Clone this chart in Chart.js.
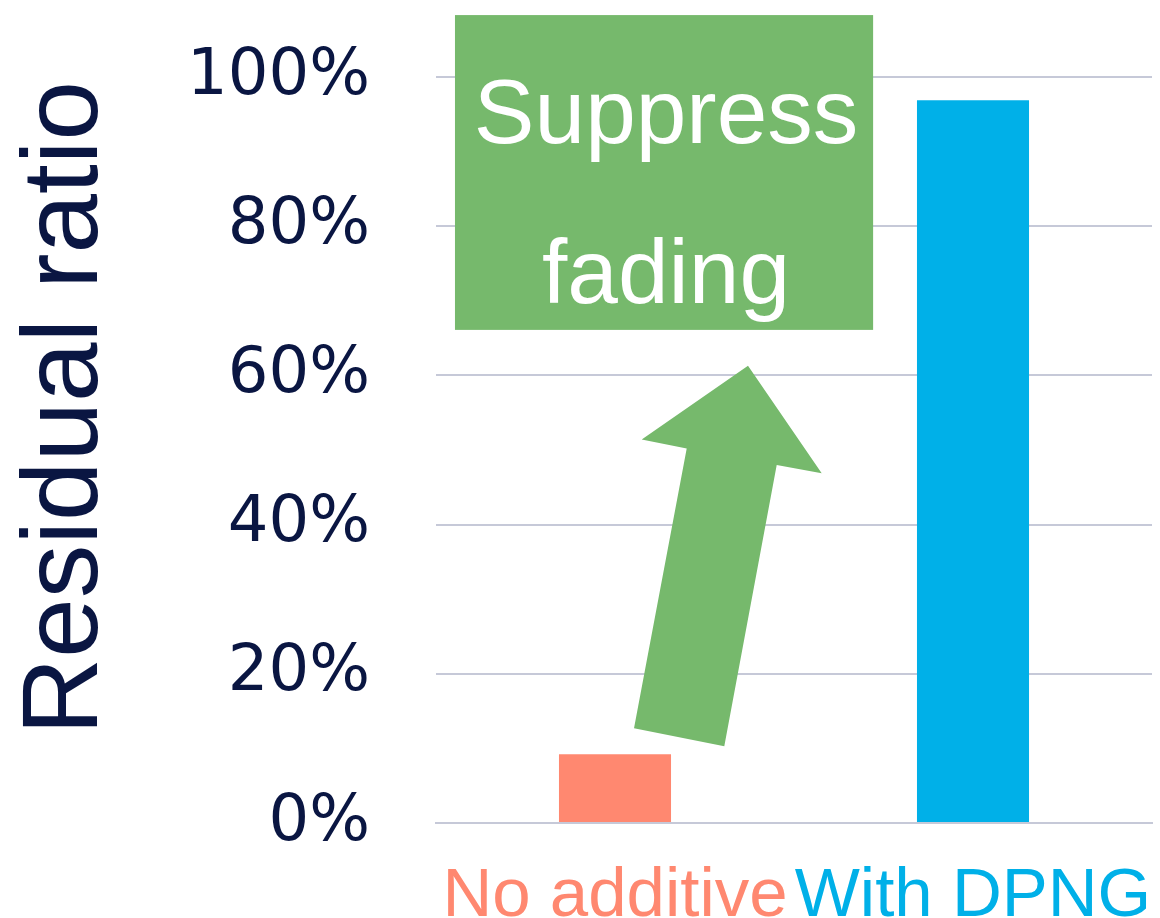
<!DOCTYPE html>
<html>
<head>
<meta charset="utf-8">
<script src="https://cdn.jsdelivr.net/npm/chart.js@4/dist/chart.umd.min.js"></script>
<style>
  html, body { margin: 0; padding: 0; background: #fff; }
  #wrap { width: 1160px; height: 918px; }
</style>
</head>
<body>
<div id="wrap"><canvas id="ratioChart"></canvas></div>
<script>
// Data
const categories = ['No additive', 'With DPNG'];
const residualRatio = [9.2, 96.9];
const barColors = ['#FF8870', '#00B0E8'];
const yTicks = [0, 20, 40, 60, 80, 100];

const navy = '#0A1642';
const green = '#76B96C';

// Callout box and arrow, in data units (x: category index, y: percent)
const calloutBox = { x0: -0.447, x1: 0.721, y0: 66.1, y1: 108.3 };
const calloutLines = ['Suppress', 'fading'];
const arrowPts = [
    [0.3715, 61.3], [0.5774, 46.9], [0.4517, 48.0], [0.3053, 10.3],
    [0.0531, 12.7], [0.2003, 50.2], [0.0746, 51.4]
];

const overlayPlugin = {
    id: 'overlay',
    afterDraw(chart) {
        const ctx = chart.ctx;
        const xs = chart.scales.x, ys = chart.scales.y;
        const unit = xs.getPixelForValue(1) - xs.getPixelForValue(0);
        const px = v => xs.getPixelForValue(0) + v * unit;
        const py = v => ys.getPixelForValue(v);

        ctx.save();
        // y axis title
        ctx.fillStyle = navy;
        ctx.font = '107px "Liberation Sans", Arial, sans-serif';
        ctx.translate(97, 408);
        ctx.rotate(-Math.PI / 2);
        ctx.textAlign = 'center';
        ctx.textBaseline = 'alphabetic';
        ctx.fillText('Residual ratio', 0, 0);
        ctx.restore();

        ctx.save();
        // green arrow
        ctx.fillStyle = green;
        ctx.beginPath();
        arrowPts.forEach((p, i) => {
            if (i === 0) ctx.moveTo(px(p[0]), py(p[1]));
            else ctx.lineTo(px(p[0]), py(p[1]));
        });
        ctx.closePath();
        ctx.fill();

        // callout box
        const bx = px(calloutBox.x0), by = py(calloutBox.y1);
        const bw = px(calloutBox.x1) - bx, bh = py(calloutBox.y0) - by;
        ctx.fillRect(bx, by, bw, bh);
        ctx.fillStyle = '#fff';
        ctx.font = '91px "Liberation Sans", Arial, sans-serif';
        ctx.textAlign = 'center';
        ctx.textBaseline = 'alphabetic';
        ctx.fillText(calloutLines[0], bx + bw / 2 + 2, by + 128);
        ctx.fillText(calloutLines[1], bx + bw / 2 + 2, by + 288);
        ctx.restore();
    }
};

new Chart(document.getElementById('ratioChart').getContext('2d'), {
    type: 'bar',
    data: {
        labels: categories,
        datasets: [{
            data: residualRatio,
            backgroundColor: barColors,
            borderWidth: 0,
            barPercentage: 0.313,
            categoryPercentage: 1
        }]
    },
    options: {
        responsive: true,
        maintainAspectRatio: false,
        animation: false,
        layout: { padding: { left: 0, right: 8, top: 77, bottom: 0 } },
        plugins: {
            legend: { display: false },
            tooltip: { enabled: false }
        },
        scales: {
            x: {
                grid: { display: false },
                border: { display: true, color: '#C6C9D8', width: 2 },
                ticks: {
                    padding: 25,
                    autoSkip: false,
                    maxRotation: 0,
                    minRotation: 0,
                    color: ctx => barColors[ctx.index],
                    font: { family: '"Liberation Sans", Arial, sans-serif', size: 69 }
                },
                afterFit: scale => {
                    scale.height = 95;
                    scale.paddingLeft = 0;
                    scale.paddingRight = 0;
                }
            },
            y: {
                min: 0,
                max: 100,
                afterBuildTicks: scale => {
                    scale.ticks = yTicks.map(v => ({ value: v }));
                },
                grid: { color: '#C6C9D8', lineWidth: 2, drawTicks: false },
                border: { display: false },
                ticks: {
                    padding: 66,
                    color: navy,
                    callback: v => v + '%',
                    font: { family: '"DejaVu Sans", sans-serif', size: 64 }
                },
                afterFit: scale => {
                    scale.width = 436;
                    scale.paddingTop = 0;
                    scale.paddingBottom = 0;
                }
            }
        }
    },
    plugins: [overlayPlugin]
});
</script>
</body>
</html>
